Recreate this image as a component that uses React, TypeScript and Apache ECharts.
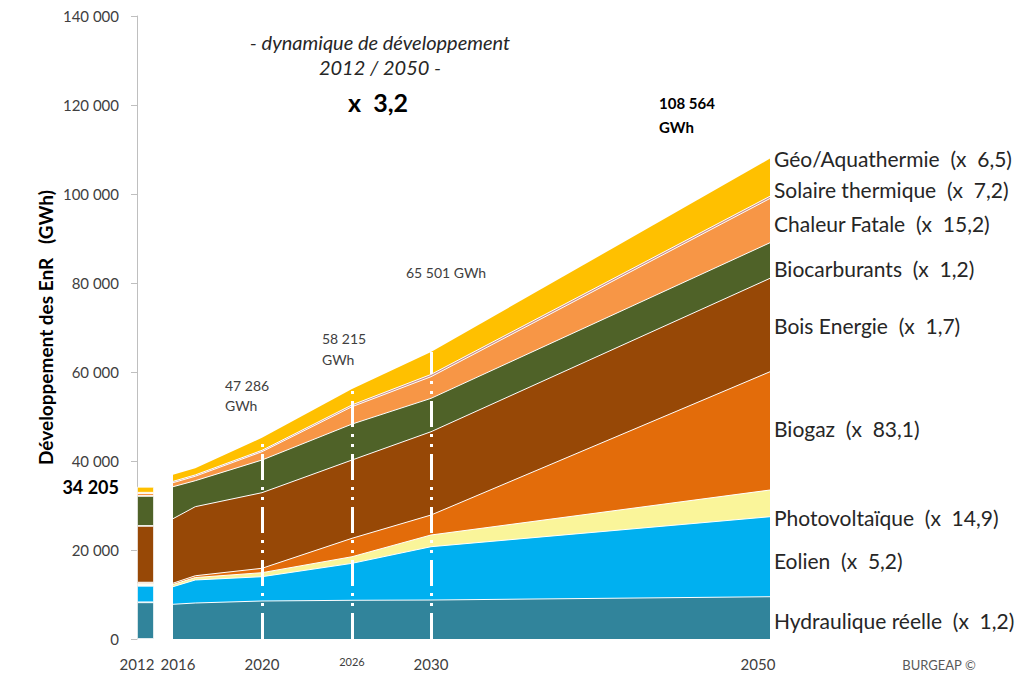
import React, { useEffect, useRef } from 'react';
import * as echarts from 'echarts';

// ---- Data ----
const seriesNames = [
  'Hydraulique réelle',
  'Eolien',
  'Photovoltaïque',
  'Biogaz',
  'Bois Energie',
  'Biocarburants',
  'Chaleur Fatale',
  'Solaire thermique',
  'Géo/Aquathermie',
];
const multipliers = ['x  1,2', 'x  5,2', 'x  14,9', 'x  83,1', 'x  1,7', 'x  1,2', 'x  15,2', 'x  7,2', 'x  6,5'];

// 2012 (état initial)
const year2012 = [8250, 3700, 400, 320, 12740, 6740, 650, 70, 1335];

const years = [2016, 2017, 2020, 2026, 2030, 2050];
const hydraulique = [7800, 8090, 8540, 8700, 8760, 9500];
const eolien = [3950, 5170, 5460, 8300, 11980, 17980];
const photovoltaique = [500, 550, 900, 1490, 2630, 6000];
const biogaz = [290, 400, 990, 4140, 4490, 26580];
const boisEnergie = [14490, 15520, 16990, 17590, 18720, 20990];
const biocarburants = [7190, 5840, 7340, 8080, 7500, 8000];
const chaleurFatale = [900, 1000, 1870, 3900, 4860, 9950];
const solaireThermique = [300, 300, 310, 400, 510, 500];
const geothermie = [1500, 1490, 2800, 3600, 5050, 8450];

const xLabelYears = [2016, 2020, 2026, 2030, 2050];
const yTicks = [0, 20000, 40000, 60000, 80000, 100000, 120000, 140000];

const annotTotals = [
  { text: ['47 286', 'GWh'] },
  { text: ['58 215', 'GWh'] },
  { text: ['65 501 GWh'] },
];
const total2050Label = '108 564';
const total2012Label = '34 205';

// ---- Styles / layout ----
const colors = ['#31849B', '#00B0F0', '#FAF59A', '#E36C0A', '#974806', '#4F6228', '#F79646', '#C9908E', '#FFC000'];
const FONT = 'Lato, "Open Sans", sans-serif';
const gridTop = 16;
const gridHeight = 623;
const segments = [
  [2016, 2020],
  [2020, 2026],
  [2026, 2030],
  [2030, 2050],
];
const segEdges = [173, 262, 352, 431, 770];

const fmt = (v: number) => String(Math.round(v)).replace(/\B(?=(\d{3})+(?!\d))/g, ' ');

const values = [
  hydraulique,
  eolien,
  photovoltaique,
  biogaz,
  boisEnergie,
  biocarburants,
  chaleurFatale,
  solaireThermique,
  geothermie,
];
// cumulative (stacked) tops, built from the series arrays
const cumulative = values.map((_, k) => years.map((__, j) => values.slice(0, k + 1).reduce((s, arr) => s + arr[j], 0)));
const totals = cumulative[cumulative.length - 1];

export default function App() {
  const ref = useRef<HTMLDivElement>(null);

  useEffect(() => {
    if (!ref.current) return;
    const chart = echarts.init(ref.current, undefined, { renderer: 'svg' });

    const grids: any[] = [{ left: 137, width: 17, top: gridTop, height: gridHeight }];
    segments.forEach((_, i) => {
      grids.push({ left: segEdges[i], width: segEdges[i + 1] - segEdges[i], top: gridTop, height: gridHeight });
    });

    const labelRich = {
      r: { fontSize: 15, fontFamily: FONT, color: '#404040', padding: [0, 24, 0, 0] },
      l: { fontSize: 15, fontFamily: FONT, color: '#404040', padding: [0, 0, 0, 10] },
    };

    const xAxes: any[] = [
      {
        gridIndex: 0,
        type: 'category',
        data: ['2012'],
        axisLine: { show: false },
        axisTick: { show: false },
        axisLabel: {
          margin: 17,
          color: '#404040',
          fontFamily: FONT,
          fontSize: 15,
          padding: [0, 17, 0, 0],
        },
      },
    ];
    segments.forEach((s, i) => {
      const last = i === segments.length - 1;
      const custom = xLabelYears.filter((y) => y >= s[0] && (y < s[1] || (last && y <= s[1])));
      xAxes.push({
        gridIndex: i + 1,
        type: 'value',
        min: s[0],
        max: s[1],
        axisLine: { show: false },
        axisTick: { show: false },
        splitLine: { show: false },
        axisLabel: {
          customValues: custom,
          margin: 17,
          color: '#404040',
          fontFamily: FONT,
          fontSize: s[0] === 2026 ? 11 : 15,
          formatter: (v: number) => (v === 2050 ? '{r|2050}' : v === 2016 ? '{l|2016}' : String(v)),
          rich: labelRich,
        },
      });
    });

    const yAxes: any[] = [
      {
        gridIndex: 0,
        type: 'value',
        min: 0,
        max: 140000,
        interval: 20000,
        name: 'Développement des EnR   (GWh)',
        nameLocation: 'middle',
        nameGap: 82,
        nameRotate: 90,
        nameTextStyle: { fontFamily: FONT, fontSize: 19, fontWeight: 'bold', color: '#000' },
        axisLine: { show: true, lineStyle: { color: '#bfbfbf', width: 1 } },
        axisTick: { show: true, inside: false, length: 6, lineStyle: { color: '#bfbfbf' } },
        splitLine: { show: false },
        axisLabel: {
          margin: 18,
          color: '#404040',
          fontFamily: FONT,
          fontSize: 15,
          customValues: yTicks,
          formatter: (v: number) => fmt(v),
        },
      },
    ];
    segments.forEach((_, i) => {
      yAxes.push({ gridIndex: i + 1, type: 'value', min: 0, max: 140000, show: false });
    });

    const series: any[] = [];
    seriesNames.forEach((n, k) => {
      series.push({
        type: 'bar',
        name: n,
        xAxisIndex: 0,
        yAxisIndex: 0,
        stack: 's2012',
        barWidth: '100%',
        data: [year2012[k]],
        itemStyle: { color: colors[k], borderColor: '#ffffff', borderWidth: 0.8 },
      });
    });

    const topK = seriesNames.length - 1;
    segments.forEach((s, i) => {
      // draw from the top layer down so each lower layer covers the upper one's lower part
      for (let k = topK; k >= 0; k--) {
        const data = years
          .map((y, j) => [y, cumulative[k][j]])
          .filter(([y]) => y >= s[0] && y <= s[1]);
        const item: any = {
          type: 'line',
          name: seriesNames[k],
          xAxisIndex: i + 1,
          yAxisIndex: i + 1,
          symbol: 'none',
          showSymbol: false,
          silent: true,
          data,
          lineStyle: { color: '#ffffff', width: k === topK ? 0 : 1 },
          areaStyle: { color: colors[k], opacity: 1, origin: 'start' },
          z: 2,
        };
        if (k === 0 && i > 0) {
          const idx = years.indexOf(s[0]);
          item.markLine = {
            silent: true,
            symbol: ['none', 'none'],
            label: { show: false },
            z: 10,
            lineStyle: { color: '#ffffff', width: 3, type: [26, 7, 3, 7, 3, 7] },
            data: [[{ coord: [s[0], 0] }, { coord: [s[0], totals[idx]] }]],
          };
        }
        series.push(item);
      }
    });

    const txt = (x: number, y: number, text: string, font: string, align = 'left', fill = '#262626') => ({
      type: 'text',
      x,
      y,
      z: 20,
      style: { text, font, fill, align, verticalAlign: 'middle' },
    });

    const rightLabelY = [620, 560, 517, 428, 325, 268, 223, 189, 158];
    const graphics: any[] = [
      txt(380, 42, '- dynamique de développement', `italic 20px ${FONT}`, 'center', '#262626'),
      txt(380, 67, '2012 / 2050 -', `italic 20px ${FONT}`, 'center', '#262626'),
      txt(378, 102, 'x  3,2', `bold 25px ${FONT}`, 'center', '#000'),
      txt(659, 103, total2050Label, `bold 15px ${FONT}`, 'left', '#000'),
      txt(659, 127, 'GWh', `bold 15px ${FONT}`, 'left', '#000'),
      txt(225, 385, annotTotals[0].text[0], `14px ${FONT}`, 'left', '#404040'),
      txt(225, 405, annotTotals[0].text[1], `14px ${FONT}`, 'left', '#404040'),
      txt(322, 338, annotTotals[1].text[0], `14px ${FONT}`, 'left', '#404040'),
      txt(322, 359, annotTotals[1].text[1], `14px ${FONT}`, 'left', '#404040'),
      txt(406, 272, annotTotals[2].text[0], `14px ${FONT}`, 'left', '#404040'),
      txt(119, 487, total2012Label, `bold 18px ${FONT}`, 'right', '#000'),
      txt(939, 665, 'BURGEAP ©', `13px ${FONT}`, 'center', '#595959'),
    ];
    seriesNames.forEach((n, k) => {
      graphics.push(txt(774, rightLabelY[k], `${n}  (${multipliers[k]})`, `21px ${FONT}`, 'left', '#262626'));
    });

    chart.setOption({
      animation: false,
      backgroundColor: '#ffffff',
      grid: grids,
      xAxis: xAxes,
      yAxis: yAxes,
      series,
      graphic: graphics,
    });

    return () => chart.dispose();
  }, []);

  return (
    <div
      ref={ref}
      style={{ position: 'absolute', left: 0, top: 0, width: 1030, height: 679 }}
    />
  );
}
